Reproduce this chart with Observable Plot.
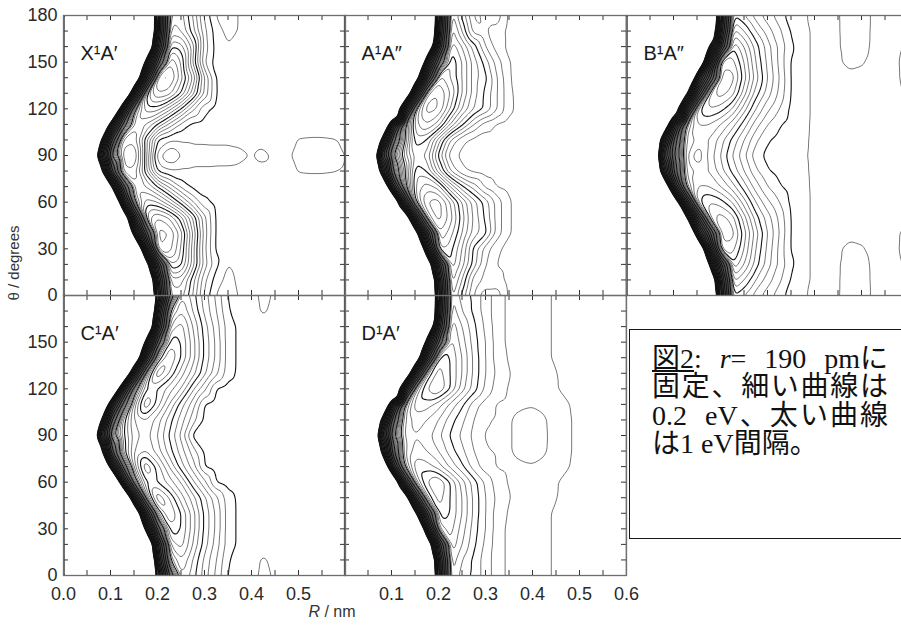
<!DOCTYPE html>
<html lang="ja">
<head>
<meta charset="utf-8">
<script src="https://cdn.jsdelivr.net/npm/d3@7"></script>
<script src="https://cdn.jsdelivr.net/npm/@observablehq/plot@0.6"></script>
<style>
  html, body { margin: 0; padding: 0; background: #fff; overflow: hidden; }
  #fig { position: relative; width: 901px; height: 626px; overflow: hidden; background: #fff;
         font-family: "Liberation Sans", Arial, Helvetica, sans-serif; color: #1a1a1a; }
  .panel { position: absolute; }
  .panel svg { max-width: none; background: transparent; display: block; overflow: visible; }
  .ytitle { position: absolute; left: 13px; top: 263px; transform: translate(-50%, -50%) rotate(-90deg);
            font-size: 15px; white-space: nowrap; color: #333; }
  .xtitle { position: absolute; left: 332px; top: 612px; transform: translate(-50%, -50%);
            font-size: 16px; white-space: nowrap; color: #333; }
  .note { position: absolute; left: 629px; top: 329px; width: 300px; height: 210px; box-sizing: border-box;
          border: 1.5px solid #1a1a1a; padding: 15px 0 0 22px;
          font-family: "Liberation Serif", "Noto Sans CJK JP", serif; font-size: 28px; color: #111; }
  .note .ln { height: 28.3px; line-height: 28.3px; }
  .note .j { width: 236px; text-align: justify; text-align-last: justify; }
  .note .n { white-space: nowrap; }
  .note .k { display: inline-block; }
</style>
</head>
<body>
<div id="fig">
  <div class="ytitle">θ / degrees</div>
  <div class="xtitle"><i>R</i> / nm</div>
  <div class="note">
    <div class="ln j"><span class="k"><u>図2</u>:</span> <span class="k"><i>r</i>=</span> 190 <span class="k">pmに</span></div>
    <div class="ln j">固定、細い曲線は</div>
    <div class="ln j">0.2&nbsp; eV、太い曲線</div>
    <div class="ln n">は1 eV間隔。</div>
  </div>
</div>
<script>
// ---- sampling grid (R in nm, theta in degrees) ----
const R_GRID = [0,0.025,0.05,0.075,0.1,0.125,0.15,0.175,0.2,0.225,0.25,0.275,0.3,0.325,0.35,0.375,0.4,0.425,0.45,0.475,0.5,0.525,0.55,0.575,0.6];
const THETA_GRID = [0,10,20,30,40,50,60,70,80,90,100,110,120,130,140,150,160,170,180];

// ---- contour levels (eV): thin every 0.2 eV, thick every 1 eV ----
const LEVELS_THIN = [-3.8,-3.6,-3.4,-3.2,-2.8,-2.6,-2.4,-2.2,-1.8,-1.6,-1.4,-1.2,-0.8,-0.6,-0.4,-0.2,0.2,0.4,0.6,0.8,1.2,1.4,1.6,1.8,2.2,2.4,2.6,2.8,3.2,3.4,3.6,3.8,4.2,4.4,4.6,4.8,5.2,5.4,5.6,5.8,6.2,6.4,6.6,6.8,7.2,7.4,7.6,7.8,8.2,8.4,8.6,8.8,9.2,9.4,9.6,9.8,10.2,10.4,10.6,10.8,11.2,11.4,11.6,11.8];
const LEVELS_THICK = [-3,-2,-1,0,1,2,3,4,5,6,7,8,9,10,11,12];

// ---- axis ticks and labels ----
const THETA_TICKS = [10,20,30,40,50,60,70,80,90,100,110,120,130,140,150,160,170];
const R_TICKS = [0.05,0.1,0.15,0.2,0.25,0.3,0.35,0.4,0.45,0.5,0.55];
const Y_LABELS_TOP = [0,30,60,90,120,150,180];
const Y_LABELS_BOTTOM = [0,30,60,90,120,150];
const X_LABELS_LEFT = [0,0.1,0.2,0.3,0.4,0.5];
const X_LABELS_RIGHT = [0.1,0.2,0.3,0.4,0.5,0.6];
const PANEL_NAMES = ["X\u00B9A\u2032", "A\u00B9A\u2033", "B\u00B9A\u2033", "C\u00B9A\u2032", "D\u00B9A\u2032"];

// ---- energies (eV) estimated from the figure; rows = theta 0..180, cols = R 0..0.6 ----
const E_X = [
[30,30,30,30,30,30,30,30,5.9,-1.2,-1.3,-0.8,-0.15,0.22,0.3,0.18,0.1,0.1,0.1,0.1,0.1,0.1,0.1,0.1,0.1],
[30,30,30,30,30,30,30,24,4.6,-1.5,-1.5,-0.9,-0.25,0.1,0.27,0.15,0.1,0.1,0.1,0.1,0.1,0.1,0.1,0.1,0.1],
[30,30,30,30,30,30,30,14.6,2.3,-2.2,-2.05,-1.3,-0.5,-0.05,0.21,0.12,0.1,0.1,0.1,0.1,0.1,0.1,0.1,0.1,0.1],
[30,30,30,30,30,30,24,4.6,-2.8,-2.7,-2.2,-1.3,-0.45,0.05,0.1,0.1,0.1,0.1,0.1,0.1,0.1,0.1,0.1,0.1,0.1],
[30,30,30,30,30,30,8.9,0.5,-2.9,-2.8,-2.3,-1.4,-0.5,0.05,0.1,0.1,0.1,0.1,0.1,0.1,0.1,0.1,0.1,0.1,0.1],
[30,30,30,30,30,19.4,3.4,-2.2,-2.6,-2.4,-1.9,-1.2,-0.45,0.05,0.1,0.1,0.1,0.1,0.1,0.1,0.1,0.1,0.1,0.1,0.1],
[30,30,30,30,30,5.9,-0.95,-1.9,-1.8,-1.4,-0.9,-0.42,-0.05,0.08,0.1,0.1,0.1,0.1,0.1,0.1,0.1,0.1,0.1,0.1,0.1],
[30,30,30,30,12.7,1.8,-1.5,-1.4,-1.0,-0.55,-0.15,0.05,0.1,0.1,0.1,0.1,0.1,0.1,0.1,0.1,0.1,0.1,0.1,0.1,0.1],
[30,30,30,15.6,2.5,-1.7,-1.75,-0.9,0.02,0.16,0.16,0.16,0.16,0.16,0.16,0.15,0.12,0.12,0.1,0.12,0.21,0.22,0.22,0.21,0.18],
[30,30,30,8.9,0.05,-1.9,-2.05,-0.9,0.3,0.62,0.4,0.3,0.3,0.28,0.28,0.25,0.19,0.26,0.15,0.17,0.25,0.3,0.3,0.27,0.19],
[30,30,30,14.6,2.3,-1.7,-1.75,-0.9,0.02,0.16,0.16,0.16,0.16,0.16,0.16,0.15,0.12,0.12,0.1,0.12,0.21,0.22,0.22,0.21,0.18],
[30,30,30,30,8.9,0.8,-1.5,-1.4,-1.0,-0.55,-0.15,0.05,0.1,0.1,0.1,0.1,0.1,0.1,0.1,0.1,0.1,0.1,0.1,0.1,0.1],
[30,30,30,30,30,5.9,-0.95,-1.9,-1.9,-1.5,-1.0,-0.45,-0.05,0.08,0.1,0.1,0.1,0.1,0.1,0.1,0.1,0.1,0.1,0.1,0.1],
[30,30,30,30,30,26,5.1,-2.0,-2.6,-2.5,-2.0,-1.3,-0.55,0.02,0.1,0.1,0.1,0.1,0.1,0.1,0.1,0.1,0.1,0.1,0.1],
[30,30,30,30,30,30,19.4,3.4,-2.8,-2.85,-2.3,-1.6,-0.6,0.03,0.1,0.1,0.1,0.1,0.1,0.1,0.1,0.1,0.1,0.1,0.1],
[30,30,30,30,30,30,30,9.8,0.5,-2.6,-2.2,-1.2,-0.2,0.1,0.1,0.1,0.1,0.1,0.1,0.1,0.1,0.1,0.1,0.1,0.1],
[30,30,30,30,30,30,30,22.3,4.1,-2.0,-1.9,-1.3,-0.3,0.08,0.19,0.1,0.1,0.1,0.1,0.1,0.1,0.1,0.1,0.1,0.1],
[30,30,30,30,30,30,30,29,5.8,-1.5,-1.4,-0.9,-0.25,0.1,0.27,0.18,0.1,0.1,0.1,0.1,0.1,0.1,0.1,0.1,0.1],
[30,30,30,30,30,30,30,30,5.9,-1.2,-1.3,-0.8,-0.15,0.22,0.3,0.18,0.1,0.1,0.1,0.1,0.1,0.1,0.1,0.1,0.1]
];

const E_A = [
[30,30,30,30,30,30,30,29,5.8,-1.6,-0.95,-0.35,-0.45,-0.5,-0.15,-0.1,-0.1,-0.1,-0.1,-0.1,-0.1,-0.1,-0.1,-0.1,-0.1],
[30,30,30,30,30,30,30,26,5.1,-1.8,-1.2,-0.5,-0.35,-0.3,-0.12,-0.1,-0.1,-0.1,-0.1,-0.1,-0.1,-0.1,-0.1,-0.1,-0.1],
[30,30,30,30,30,30,30,17.5,3.0,-2.0,-1.5,-0.9,-0.41,-0.19,-0.12,-0.1,-0.1,-0.1,-0.1,-0.1,-0.1,-0.1,-0.1,-0.1,-0.1],
[30,30,30,30,30,30,29,5.8,-2.2,-2.1,-1.6,-0.95,-0.5,-0.25,-0.12,-0.1,-0.1,-0.1,-0.1,-0.1,-0.1,-0.1,-0.1,-0.1,-0.1],
[30,30,30,30,30,30,14.6,2.3,-2.6,-2.3,-1.8,-1.3,-1.05,-0.5,-0.22,-0.1,-0.1,-0.1,-0.1,-0.1,-0.1,-0.1,-0.1,-0.1,-0.1],
[30,30,30,30,30,19.4,3.4,-2.4,-2.9,-2.5,-1.9,-1.35,-0.95,-0.5,-0.22,-0.1,-0.1,-0.1,-0.1,-0.1,-0.1,-0.1,-0.1,-0.1,-0.1],
[30,30,30,30,22.3,4.1,-2.0,-2.8,-2.9,-2.4,-1.8,-1.3,-0.9,-0.5,-0.22,-0.1,-0.1,-0.1,-0.1,-0.1,-0.1,-0.1,-0.1,-0.1,-0.1],
[30,30,30,26,5.1,-0.5,-2.2,-2.5,-2.3,-1.6,-1.05,-0.7,-0.35,-0.18,-0.12,-0.1,-0.1,-0.1,-0.1,-0.1,-0.1,-0.1,-0.1,-0.1,-0.1],
[30,30,30,10.8,1.3,-0.8,-2.1,-2.0,-1.3,-0.6,-0.25,-0.15,-0.1,-0.1,-0.1,-0.1,-0.1,-0.1,-0.1,-0.1,-0.1,-0.1,-0.1,-0.1,-0.1],
[30,30,28,5.5,0.3,-1.2,-1.9,-1.75,-0.95,-0.3,-0.15,-0.1,-0.1,-0.1,-0.1,-0.1,-0.1,-0.1,-0.1,-0.1,-0.1,-0.1,-0.1,-0.1,-0.1],
[30,30,30,12.7,1.8,-0.8,-2.1,-2.0,-1.3,-0.6,-0.25,-0.15,-0.1,-0.1,-0.1,-0.1,-0.1,-0.1,-0.1,-0.1,-0.1,-0.1,-0.1,-0.1,-0.1],
[30,30,30,30,5.9,-0.6,-2.3,-2.6,-2.3,-1.6,-1.05,-0.6,-0.3,-0.17,-0.1,-0.1,-0.1,-0.1,-0.1,-0.1,-0.1,-0.1,-0.1,-0.1,-0.1],
[30,30,30,30,26,5.1,-2.1,-2.9,-2.8,-2.2,-1.6,-1.2,-0.95,-0.6,-0.25,-0.12,-0.1,-0.1,-0.1,-0.1,-0.1,-0.1,-0.1,-0.1,-0.1],
[30,30,30,30,30,22.3,4.1,-2.6,-2.8,-2.4,-1.8,-1.3,-0.95,-0.6,-0.25,-0.1,-0.1,-0.1,-0.1,-0.1,-0.1,-0.1,-0.1,-0.1,-0.1],
[30,30,30,30,30,30,15.6,2.5,-2.5,-2.2,-1.8,-1.3,-1.05,-0.6,-0.22,-0.1,-0.1,-0.1,-0.1,-0.1,-0.1,-0.1,-0.1,-0.1,-0.1],
[30,30,30,30,30,30,30,7,0.05,-2.2,-1.8,-1.3,-0.9,-0.5,-0.21,-0.1,-0.1,-0.1,-0.1,-0.1,-0.1,-0.1,-0.1,-0.1,-0.1],
[30,30,30,30,30,30,30,19.4,3.4,-2.0,-1.6,-1.1,-0.6,-0.3,-0.15,-0.1,-0.1,-0.1,-0.1,-0.1,-0.1,-0.1,-0.1,-0.1,-0.1],
[30,30,30,30,30,30,30,26,5.1,-1.8,-1.2,-0.5,-0.41,-0.35,-0.12,-0.1,-0.1,-0.1,-0.1,-0.1,-0.1,-0.1,-0.1,-0.1,-0.1],
[30,30,30,30,30,30,30,29,5.8,-1.6,-0.95,-0.35,-0.45,-0.5,-0.15,-0.1,-0.1,-0.1,-0.1,-0.1,-0.1,-0.1,-0.1,-0.1,-0.1]
];

const E_B = [
[30,30,30,30,30,30,30,26,5.1,-2.0,-1.8,-1.5,-1.3,-1.1,-0.9,-0.82,-0.77,-0.75,-0.79,-0.86,-0.86,-0.78,-0.75,-0.75,-0.75],
[30,30,30,30,30,30,30,21.4,3.9,-2.5,-2.2,-1.8,-1.5,-1.25,-0.98,-0.85,-0.77,-0.76,-0.79,-0.85,-0.85,-0.78,-0.75,-0.76,-0.78],
[30,30,30,30,30,30,30,11.8,1.6,-3.0,-2.6,-2.1,-1.7,-1.35,-1.05,-0.85,-0.77,-0.76,-0.79,-0.84,-0.84,-0.78,-0.76,-0.78,-0.82],
[30,30,30,30,30,30,22.3,4.1,-3.3,-3.3,-2.8,-2.2,-1.75,-1.35,-0.98,-0.85,-0.77,-0.76,-0.79,-0.82,-0.81,-0.77,-0.76,-0.79,-0.84],
[30,30,30,30,30,30,7.0,0.8,-3.5,-3.5,-2.9,-2.3,-1.8,-1.4,-0.98,-0.85,-0.77,-0.76,-0.77,-0.78,-0.77,-0.76,-0.76,-0.79,-0.83],
[30,30,30,30,30,13.7,2.0,-3.2,-3.5,-3.3,-2.7,-2.1,-1.7,-1.35,-0.98,-0.85,-0.77,-0.76,-0.76,-0.76,-0.76,-0.76,-0.76,-0.77,-0.79],
[30,30,30,30,17.5,3.0,-2.9,-3.2,-3.1,-2.8,-2.3,-1.8,-1.45,-1.2,-0.95,-0.85,-0.77,-0.76,-0.76,-0.76,-0.76,-0.76,-0.76,-0.76,-0.76],
[30,30,30,22.3,4.1,-2.0,-2.8,-2.8,-2.6,-2.3,-1.9,-1.5,-1.2,-1.02,-0.92,-0.84,-0.77,-0.76,-0.76,-0.76,-0.76,-0.76,-0.76,-0.76,-0.76],
[30,30,30,8.9,0.9,-2.4,-2.65,-2.6,-2.3,-1.95,-1.6,-1.25,-1.02,-0.93,-0.88,-0.83,-0.77,-0.76,-0.76,-0.76,-0.76,-0.76,-0.76,-0.76,-0.76],
[30,30,28,5.5,0.2,-2.5,-2.95,-2.55,-2.2,-1.8,-1.45,-1.08,-0.95,-0.9,-0.86,-0.82,-0.77,-0.76,-0.76,-0.76,-0.76,-0.76,-0.76,-0.76,-0.76],
[30,30,30,8.9,0.9,-2.4,-2.65,-2.6,-2.3,-1.95,-1.6,-1.25,-1.02,-0.93,-0.88,-0.83,-0.77,-0.76,-0.76,-0.76,-0.76,-0.76,-0.76,-0.76,-0.76],
[30,30,30,22.3,4.1,-2.0,-2.8,-2.8,-2.6,-2.3,-1.9,-1.5,-1.2,-1.02,-0.92,-0.84,-0.77,-0.76,-0.76,-0.76,-0.76,-0.76,-0.76,-0.76,-0.76],
[30,30,30,30,17.5,3.0,-2.9,-3.2,-3.1,-2.8,-2.3,-1.8,-1.45,-1.2,-0.95,-0.85,-0.77,-0.76,-0.76,-0.76,-0.76,-0.76,-0.76,-0.76,-0.76],
[30,30,30,30,30,13.7,2.0,-3.2,-3.5,-3.3,-2.7,-2.1,-1.7,-1.35,-0.98,-0.85,-0.77,-0.76,-0.76,-0.76,-0.76,-0.76,-0.76,-0.78,-0.82],
[30,30,30,30,30,30,7.0,0.8,-3.5,-3.5,-2.9,-2.3,-1.8,-1.4,-0.98,-0.85,-0.77,-0.76,-0.77,-0.78,-0.77,-0.76,-0.76,-0.79,-0.83],
[30,30,30,30,30,30,22.3,4.1,-3.3,-3.3,-2.8,-2.2,-1.75,-1.35,-0.98,-0.85,-0.77,-0.76,-0.79,-0.82,-0.81,-0.77,-0.76,-0.79,-0.84],
[30,30,30,30,30,30,30,11.8,1.6,-3.0,-2.6,-2.1,-1.7,-1.35,-1.05,-0.85,-0.77,-0.76,-0.79,-0.84,-0.84,-0.78,-0.76,-0.78,-0.82],
[30,30,30,30,30,30,30,21.4,3.9,-2.5,-2.2,-1.8,-1.5,-1.25,-0.98,-0.85,-0.77,-0.76,-0.79,-0.85,-0.85,-0.78,-0.75,-0.76,-0.78],
[30,30,30,30,30,30,30,26,5.1,-2.0,-1.8,-1.5,-1.3,-1.1,-0.9,-0.82,-0.77,-0.75,-0.79,-0.86,-0.86,-0.78,-0.75,-0.75,-0.75]
];

const E_C = [
[30,30,30,30,30,30,30,30,8.9,0.9,-1.4,-1.1,-0.7,-0.35,0.02,0.1,0.15,0.24,0.18,0.1,0.1,0.1,0.1,0.1,0.1],
[30,30,30,30,30,30,30,29,5.8,-1.0,-1.6,-1.2,-0.75,-0.41,-0.02,0.1,0.15,0.22,0.16,0.1,0.1,0.1,0.1,0.1,0.1],
[30,30,30,30,30,30,30,22.3,4.1,-1.6,-1.9,-1.4,-0.9,-0.5,-0.1,0.05,0.1,0.15,0.1,0.1,0.1,0.1,0.1,0.1,0.1],
[30,30,30,30,30,30,30,9.8,0.5,-2.1,-2.0,-1.5,-0.95,-0.55,-0.1,0.05,0.1,0.1,0.1,0.1,0.1,0.1,0.1,0.1,0.1],
[30,30,30,30,30,30,19.4,3.4,-1.8,-2.4,-2.0,-1.5,-0.95,-0.55,-0.1,0.05,0.1,0.1,0.1,0.1,0.1,0.1,0.1,0.1,0.1],
[30,30,30,30,30,26,5.1,-1.4,-2.6,-2.2,-1.7,-1.3,-0.85,-0.45,-0.08,0.05,0.1,0.1,0.1,0.1,0.1,0.1,0.1,0.1,0.1],
[30,30,30,30,30,5.9,-0.6,-2.0,-2.0,-1.7,-1.4,-0.85,-0.45,0.02,0.1,0.1,0.1,0.1,0.1,0.1,0.1,0.1,0.1,0.1,0.1],
[30,30,30,30,8.9,0.9,-1.5,-2.4,-1.9,-1.4,-0.9,-0.5,0.02,0.1,0.1,0.1,0.1,0.1,0.1,0.1,0.1,0.1,0.1,0.1,0.1],
[30,30,30,15.6,2.5,-0.8,-1.6,-1.8,-1.5,-1.1,-0.7,-0.3,0.05,0.1,0.1,0.1,0.1,0.1,0.1,0.1,0.1,0.1,0.1,0.1,0.1],
[30,30,30,7.9,0.6,-0.9,-1.5,-1.7,-1.4,-0.98,-0.55,0.05,0.1,0.1,0.1,0.1,0.1,0.1,0.1,0.1,0.1,0.1,0.1,0.1,0.1],
[30,30,30,14.6,2.3,-0.8,-1.6,-1.8,-1.5,-1.1,-0.7,-0.3,0.05,0.1,0.1,0.1,0.1,0.1,0.1,0.1,0.1,0.1,0.1,0.1,0.1],
[30,30,30,30,7.0,0.8,-1.5,-2.4,-1.9,-1.4,-0.9,-0.5,0.02,0.1,0.1,0.1,0.1,0.1,0.1,0.1,0.1,0.1,0.1,0.1,0.1],
[30,30,30,30,26,5.1,-0.6,-2.0,-2.0,-1.7,-1.4,-0.85,-0.45,0.02,0.1,0.1,0.1,0.1,0.1,0.1,0.1,0.1,0.1,0.1,0.1],
[30,30,30,30,30,24,4.6,-1.4,-2.6,-2.2,-1.7,-1.3,-0.85,-0.45,-0.08,0.05,0.1,0.1,0.1,0.1,0.1,0.1,0.1,0.1,0.1],
[30,30,30,30,30,30,19.4,3.4,-1.8,-2.4,-2.0,-1.5,-0.95,-0.55,-0.1,0.05,0.1,0.1,0.1,0.1,0.1,0.1,0.1,0.1,0.1],
[30,30,30,30,30,30,30,9.8,0.5,-2.1,-2.0,-1.5,-0.95,-0.55,-0.1,0.05,0.1,0.1,0.1,0.1,0.1,0.1,0.1,0.1,0.1],
[30,30,30,30,30,30,30,22.3,4.1,-1.6,-1.9,-1.4,-0.9,-0.5,-0.1,0.05,0.1,0.15,0.1,0.1,0.1,0.1,0.1,0.1,0.1],
[30,30,30,30,30,30,30,29,5.8,-1.0,-1.6,-1.2,-0.75,-0.41,-0.02,0.1,0.15,0.22,0.16,0.1,0.1,0.1,0.1,0.1,0.1],
[30,30,30,30,30,30,30,30,8.9,0.9,-1.4,-1.1,-0.7,-0.35,0.02,0.1,0.15,0.24,0.18,0.1,0.1,0.1,0.1,0.1,0.1]
];

const E_D = [
[30,30,30,30,30,30,30,29,5.8,-1.5,-1.1,-0.95,-0.7,-0.5,-0.35,-0.3,-0.27,-0.23,-0.18,-0.12,-0.1,-0.1,-0.1,-0.1,-0.1],
[30,30,30,30,30,30,30,26,5.1,-1.6,-1.2,-0.95,-0.7,-0.5,-0.35,-0.3,-0.27,-0.23,-0.18,-0.12,-0.1,-0.1,-0.1,-0.1,-0.1],
[30,30,30,30,30,30,30,17.5,3.0,-1.8,-1.4,-1.05,-0.75,-0.5,-0.35,-0.3,-0.27,-0.23,-0.18,-0.12,-0.1,-0.1,-0.1,-0.1,-0.1],
[30,30,30,30,30,30,29,5.8,-1.6,-1.9,-1.5,-1.1,-0.8,-0.5,-0.35,-0.3,-0.27,-0.23,-0.18,-0.12,-0.1,-0.1,-0.1,-0.1,-0.1],
[30,30,30,30,30,30,12.7,1.8,-2.1,-2.0,-1.6,-1.15,-0.8,-0.5,-0.38,-0.3,-0.27,-0.23,-0.18,-0.12,-0.1,-0.1,-0.1,-0.1,-0.1],
[30,30,30,30,30,17.5,3.0,-1.8,-2.3,-2.0,-1.6,-1.15,-0.8,-0.55,-0.41,-0.32,-0.27,-0.23,-0.21,-0.13,-0.1,-0.1,-0.1,-0.1,-0.1],
[30,30,30,30,21.4,3.9,-1.5,-2.2,-2.4,-2.0,-1.5,-1.1,-0.75,-0.5,-0.38,-0.32,-0.28,-0.24,-0.21,-0.16,-0.12,-0.1,-0.1,-0.1,-0.1],
[30,30,30,26,5.1,-0.9,-1.9,-1.9,-1.7,-1.35,-1.05,-0.7,-0.5,-0.38,-0.36,-0.38,-0.39,-0.35,-0.27,-0.21,-0.15,-0.1,-0.1,-0.1,-0.1],
[30,30,30,12.7,1.8,-1.3,-1.7,-1.6,-1.4,-1.1,-0.85,-0.6,-0.42,-0.38,-0.39,-0.43,-0.45,-0.43,-0.3,-0.22,-0.16,-0.1,-0.1,-0.1,-0.1],
[30,30,30,7.9,0.6,-1.4,-1.6,-1.5,-1.25,-0.98,-0.75,-0.55,-0.38,-0.37,-0.39,-0.43,-0.46,-0.44,-0.3,-0.22,-0.16,-0.1,-0.1,-0.1,-0.1],
[30,30,30,12.7,1.8,-1.3,-1.7,-1.6,-1.4,-1.1,-0.85,-0.6,-0.42,-0.38,-0.39,-0.43,-0.45,-0.43,-0.3,-0.22,-0.16,-0.1,-0.1,-0.1,-0.1],
[30,30,30,30,5.9,-0.9,-1.9,-1.9,-1.7,-1.35,-1.05,-0.7,-0.5,-0.38,-0.36,-0.38,-0.39,-0.35,-0.27,-0.21,-0.15,-0.1,-0.1,-0.1,-0.1],
[30,30,30,30,26,5.1,-1.5,-2.2,-2.4,-2.0,-1.5,-1.1,-0.75,-0.5,-0.38,-0.32,-0.28,-0.24,-0.21,-0.16,-0.12,-0.1,-0.1,-0.1,-0.1],
[30,30,30,30,30,22.3,4.1,-1.8,-2.3,-2.0,-1.6,-1.15,-0.8,-0.55,-0.41,-0.32,-0.27,-0.23,-0.21,-0.13,-0.1,-0.1,-0.1,-0.1,-0.1],
[30,30,30,30,30,30,17.5,3.0,-2.1,-2.0,-1.6,-1.15,-0.8,-0.5,-0.38,-0.3,-0.27,-0.23,-0.18,-0.12,-0.1,-0.1,-0.1,-0.1,-0.1],
[30,30,30,30,30,30,30,8.9,0.9,-1.9,-1.5,-1.1,-0.8,-0.5,-0.35,-0.3,-0.27,-0.23,-0.18,-0.12,-0.1,-0.1,-0.1,-0.1,-0.1],
[30,30,30,30,30,30,30,20.4,3.7,-1.8,-1.4,-1.05,-0.75,-0.5,-0.35,-0.3,-0.27,-0.23,-0.18,-0.12,-0.1,-0.1,-0.1,-0.1,-0.1],
[30,30,30,30,30,30,30,28,5.3,-1.6,-1.2,-0.95,-0.7,-0.5,-0.35,-0.3,-0.27,-0.23,-0.18,-0.12,-0.1,-0.1,-0.1,-0.1,-0.1],
[30,30,30,30,30,30,30,29,5.8,-1.5,-1.1,-0.95,-0.7,-0.5,-0.35,-0.3,-0.27,-0.23,-0.18,-0.12,-0.1,-0.1,-0.1,-0.1,-0.1]
];

// ---- build the page ----
const FW = 282, FH = 280;
const FONT = '"Liberation Sans", Arial, Helvetica, sans-serif';

function samples(grid, label) {
  if (grid.length !== THETA_GRID.length) throw new Error(label + " has " + grid.length + " rows");
  const out = [];
  grid.forEach((row, i) => {
    if (row.length !== R_GRID.length) throw new Error(label + " row " + i + " has " + row.length + " values");
    row.forEach((E, j) => out.push({R: R_GRID[j], theta: THETA_GRID[i], E}));
  });
  return out;
}

const LAYOUT = [
  {grid: E_X, key: "X", name: PANEL_NAMES[0], left: 63, top: 15, yLabels: Y_LABELS_TOP},
  {grid: E_A, key: "A", name: PANEL_NAMES[1], left: 344, top: 15},
  {grid: E_B, key: "B", name: PANEL_NAMES[2], left: 626, top: 15},
  {grid: E_C, key: "C", name: PANEL_NAMES[3], left: 63, top: 295, yLabels: Y_LABELS_BOTTOM, xLabels: X_LABELS_LEFT},
  {grid: E_D, key: "D", name: PANEL_NAMES[4], left: 344, top: 295, xLabels: X_LABELS_RIGHT}
];

const fig = document.getElementById("fig");
for (const p of LAYOUT) {
  const pts = samples(p.grid, p.key);
  const ml = p.yLabels ? p.left : 4;
  const mt = 4, mr = 4;
  const mb = p.xLabels ? 626 - (p.top + FH) : 4;
  const common = {x: "R", y: "theta", value: "E", interpolate: "barycentric", pixelSize: 1, blur: 2, fill: "none", clip: true};
  const marks = [
    Plot.contour(pts, {...common, thresholds: LEVELS_THIN, stroke: "#4a4a4a", strokeWidth: 0.75}),
    Plot.contour(pts, {...common, thresholds: LEVELS_THICK, stroke: "#111", strokeWidth: 1.1}),
    Plot.ruleY(THETA_TICKS, {insetRight: FW - 5, stroke: "#333"}),
    Plot.ruleY(THETA_TICKS, {insetLeft: FW - 5, stroke: "#333"}),
    Plot.ruleX(R_TICKS, {insetTop: FH - 5, stroke: "#333"}),
    Plot.ruleX(R_TICKS, {insetBottom: FH - 5, stroke: "#333"}),
    Plot.frame({stroke: "#6e6e6e", strokeWidth: 1.3}),
    Plot.text([p.name], {text: d => d, frameAnchor: "top-left", dx: 17, dy: 38, textAnchor: "start", lineAnchor: "middle", fontSize: 20, fill: "#1a1a1a"})
  ];
  if (p.yLabels) marks.push(Plot.axisY(p.yLabels, {anchor: "left", tickSize: 0, tickPadding: 6, label: null, fontSize: 18, fill: "#2a2a2a"}));
  if (p.xLabels) marks.push(Plot.axisX(p.xLabels, {anchor: "bottom", tickSize: 0, tickPadding: 12, label: null, fontSize: 18, fill: "#2a2a2a", tickFormat: d => d.toFixed(1)}));
  const xScale = {domain: [0, 0.6]};
  const yScale = {domain: [0, 180]};
  if (!p.xLabels) xScale.axis = null;
  if (!p.yLabels) yScale.axis = null;
  const svg = Plot.plot({
    width: FW + ml + mr, height: FH + mt + mb,
    marginLeft: ml, marginRight: mr, marginTop: mt, marginBottom: mb,
    x: xScale, y: yScale,
    style: {background: "transparent", fontFamily: FONT, fontSize: "18px", color: "#1a1a1a", overflow: "visible"},
    marks
  });
  const div = document.createElement("div");
  div.className = "panel";
  div.style.left = (p.left - ml) + "px";
  div.style.top = (p.top - mt) + "px";
  div.appendChild(svg);
  fig.insertBefore(div, fig.firstChild);
}
</script>
</body>
</html>
